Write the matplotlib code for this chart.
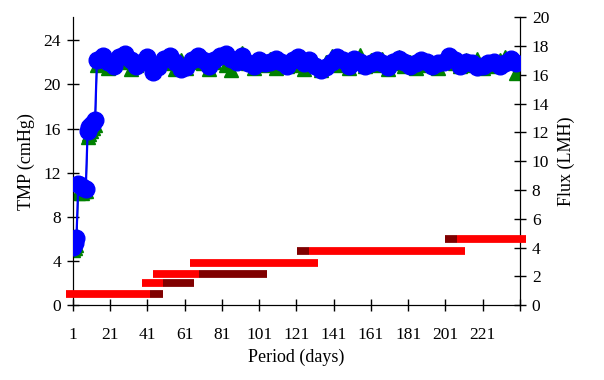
import matplotlib
matplotlib.use('Agg')
import matplotlib.pyplot as plt

plt.rcParams['font.family'] = ['Liberation Serif', 'DejaVu Serif']

# start-up days (daily) then every third day
days = [1, 2, 3, 4, 5, 6, 7, 8, 9, 10, 11, 12, 13,
        14, 17, 20, 23, 26, 29, 32, 35, 38, 41,
        44, 47, 50, 53, 56, 59, 62, 65, 68, 71,
        74, 77, 80, 83, 86, 89, 92, 95, 98, 101,
        104, 107, 110, 113, 116, 119, 122, 125, 128, 131,
        134, 137, 140, 143, 146, 149, 152, 155, 158, 161,
        164, 167, 170, 173, 176, 179, 182, 185, 188, 191,
        194, 197, 200, 203, 206, 209, 212, 215, 218, 221,
        224, 227, 230, 233, 236, 239]

tmp = [5.3, 5.6, 6.1, 11.0, 10.9, 10.7, 10.6, 10.5, 15.8, 16.1, 16.3, 16.5, 16.8,
       22.2, 22.6, 22.0, 21.7, 22.5, 22.8, 22.2, 21.7, 22.0, 22.5,
       21.1, 21.6, 22.3, 22.6, 22.0, 21.4, 21.6, 22.2, 22.6, 22.2,
       21.7, 22.2, 22.6, 22.8, 22.3, 22.0, 22.6, 21.9, 21.7, 22.2,
       21.9, 22.0, 22.3, 22.0, 21.7, 22.2, 22.5, 21.9, 22.2, 21.7,
       21.3, 21.6, 22.0, 22.5, 22.2, 21.7, 22.3, 22.0, 21.7, 21.9,
       22.2, 21.9, 21.6, 22.0, 22.3, 22.0, 21.7, 21.9, 22.2, 22.0,
       21.7, 21.9, 22.0, 22.6, 22.2, 21.7, 22.0, 21.9, 21.6, 21.7,
       21.9, 22.0, 21.7, 21.9, 22.3, 21.9]

flux = [3.8, 4.0, 4.2, 7.8, 7.9, 7.8, 7.9, 7.9, 11.7, 11.9, 12.1, 12.3, 12.5,
        16.7, 17.0, 16.5, 16.8, 17.4, 16.9, 16.4, 16.7, 17.1, 16.8,
        16.3, 16.7, 17.1, 16.8, 16.4, 17.0, 16.5, 16.9, 17.3, 16.8,
        16.4, 16.9, 17.2, 16.7, 16.3, 17.0, 17.5, 16.8, 16.5, 17.0,
        16.7, 17.1, 16.5, 16.9, 16.6, 17.1, 16.7, 16.4, 17.0, 16.8,
        16.3, 16.9, 17.3, 16.7, 17.1, 16.5, 16.9, 17.4, 16.6, 17.0,
        16.7, 17.1, 16.4, 16.8, 17.2, 16.6, 16.9, 16.5, 17.0, 16.7,
        16.8, 16.5, 17.1, 17.3, 16.8, 16.6, 17.0, 16.7, 17.1, 16.5,
        16.8, 16.6, 17.0, 17.2, 17.1, 16.1]

# operating periods (bright red) and transition periods (dark red)
red_start = [-2.5, 38, 44.3, 64, 127.8, 207]
red_end = [42.3, 49.5, 69, 132.7, 211.5, 244]
red_level = [1.0, 2.0, 2.8, 3.85, 4.9, 6.0]
dark_start = [42.3, 49.5, 69, 121.5, 201]
dark_end = [49.3, 66, 105.5, 127.8, 207]
dark_level = [1.0, 2.0, 2.8, 4.9, 6.0]

xticks = [1, 21, 41, 61, 81, 101, 121, 141, 161, 181, 201, 221, 241]
xlabels = ['1', '21', '41', '61', '81', '101', '121', '141', '161', '181', '201', '221', '']

fig = plt.figure(figsize=(6.04, 3.8), dpi=100)
ax = fig.add_axes([0.1204, 0.197, 0.7406, 0.758])
ax2 = ax.twinx()

ax2.plot(days, flux, color='#008000', marker='^', markersize=10.5, linestyle='-', linewidth=1, zorder=2)
ax.plot(days, tmp, color='#0000FF', marker='o', markersize=12, linewidth=1.6, zorder=3)

for s, e, lv in zip(red_start, red_end, red_level):
    ax.plot([s, e], [lv, lv], color='#FF0000', linewidth=5.6, solid_capstyle='butt', clip_on=False, zorder=4)
for s, e, lv in zip(dark_start, dark_end, dark_level):
    ax.plot([s, e], [lv, lv], color='#800000', linewidth=5.6, solid_capstyle='butt', clip_on=False, zorder=4)

ax.set_zorder(ax2.get_zorder() + 1)
ax.patch.set_visible(False)

ax.set_xlim(1, 241)
ax.set_ylim(0, 26.1)
ax2.set_ylim(0, 20)
ax.set_xticks(xticks)
ax.set_xticklabels(xlabels)
ax.set_yticks([0, 4, 8, 12, 16, 20, 24])
ax2.set_yticks([0, 2, 4, 6, 8, 10, 12, 14, 16, 18, 20])

for a in (ax, ax2):
    a.spines['top'].set_visible(False)
    a.tick_params(direction='inout', length=9, width=1, labelsize=12.5)
ax.tick_params(axis='x', pad=11)
ax.tick_params(axis='y', pad=4)
ax2.tick_params(axis='y', pad=4)

ax.set_xlabel('Period (days)', fontsize=13, labelpad=4)
ax.set_ylabel('TMP (cmHg)', fontsize=13, labelpad=6)
ax2.set_ylabel('Flux (LMH)', fontsize=13, labelpad=6)

plt.savefig('out.png', dpi=100)
plt.close()
